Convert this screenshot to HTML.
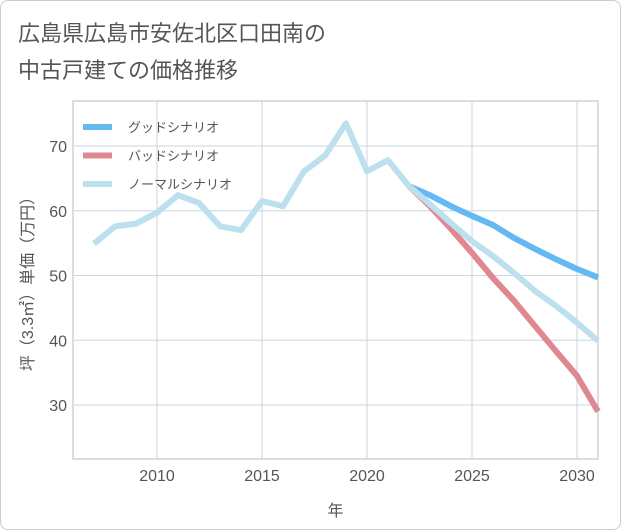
<!DOCTYPE html>
<html><head><meta charset="utf-8"><style>
body{margin:0;background:#fff;font-family:"Liberation Sans","Noto Sans CJK JP",sans-serif}
#wrap{position:relative;width:619px;height:528px;border:1px solid #ccc;border-radius:8px;overflow:hidden}
</style></head><body>
<div id="wrap">
<svg id="chart" width="619" height="528"></svg>
</div>
<script>
const years=[2007,2008,2009,2010,2011,2012,2013,2014,2015,2016,2017,2018,2019,2020,2021,2022,2023,2024,2025,2026,2027,2028,2029,2030,2031];
const normal=[54.9,57.6,58,59.7,62.4,61.2,57.6,57,61.5,60.7,66.1,68.5,73.5,66.1,67.8,63.8,61,58.1,55.3,53,50.4,47.6,45.3,42.7,39.9];
const goodYears=[2022,2023,2024,2025,2026,2027,2028,2029,2030,2031];
const good=[63.8,62.4,60.7,59.2,57.8,55.8,54.1,52.5,51,49.7];
const bad=[63.8,60.7,57.2,53.5,49.6,46.1,42.2,38.3,34.5,29];
const xTicks=[2010,2015,2020,2025,2030];
const yTicks=[30,40,50,60,70];
const L=72,R=597,T=100,B=458;
const X=v=>156+(v-2010)*21, Y=v=>145+(70-v)*6.475;
const svg=document.getElementById('chart'),NS='http://www.w3.org/2000/svg';
function mk(t,a,p){const e=document.createElementNS(NS,t);for(const k in a)e.setAttribute(k,a[k]);(p||svg).appendChild(e);return e;}
function txt(s,a,name){const e=mk('text',a);e.textContent=s;return e;}
txt('広島県広島市安佐北区口田南の',{x:17,y:40,'font-size':22,fill:'#555'},'chart-title-line1');
txt('中古戸建ての価格推移',{x:17,y:77,'font-size':22,fill:'#555'},'chart-title-line2');
let r=mk('rect',{x:L,y:T,width:R-L,height:B-T,fill:'none',stroke:'#bbb'});

xTicks.forEach(v=>{const l=mk('line',{x1:X(v),x2:X(v),y1:T,y2:B,stroke:'#c9d6e2'});
txt(String(v),{x:X(v),y:B+22,'font-size':16,fill:'#555','text-anchor':'middle'},'x-tick-label');});
yTicks.forEach(v=>{const l=mk('line',{x1:L,x2:R,y1:Y(v),y2:Y(v),stroke:'#c9d6e2'});
txt(String(v),{x:L-6,y:Y(v)+6,'font-size':16,fill:'#555','text-anchor':'end'},'y-tick-label');});
txt('年',{x:(L+R)/2,y:515,'font-size':16,fill:'#555','text-anchor':'middle'},'x-axis-title');
const yt=txt('坪（3.3㎡）単価（万円）',{x:0,y:0,'font-size':16,fill:'#555','text-anchor':'middle',transform:'translate(32,'+(T+B)/2+') rotate(-90)'},'y-axis-title');
function line(xs,vs,c,name){const p=mk('polyline',{points:xs.map((x,i)=>X(x)+','+Y(vs[i])).join(' '),fill:'none',stroke:c,'stroke-width':6,'stroke-linejoin':'round'});}
const cp=mk('clipPath',{id:'cp'});mk('rect',{x:L,y:T,width:R-L,height:B-T},cp);
line(goodYears,bad,'#e0888f','bad-scenario-line');
line(goodYears,good,'#64b9f2','good-scenario-line');
line(years,normal,'#bde0ef','normal-scenario-line');
const leg=[['グッドシナリオ','#64b9f2'],['バッドシナリオ','#e0888f'],['ノーマルシナリオ','#bde0ef']];
leg.forEach((d,i)=>{const y=126+i*28.5;const l=mk('line',{x1:82,x2:111,y1:y,y2:y,stroke:d[1],'stroke-width':6});
txt(d[0],{x:127,y:y+5,'font-size':13,fill:'#555'},'legend-entry');});
</script>
</body></html>
